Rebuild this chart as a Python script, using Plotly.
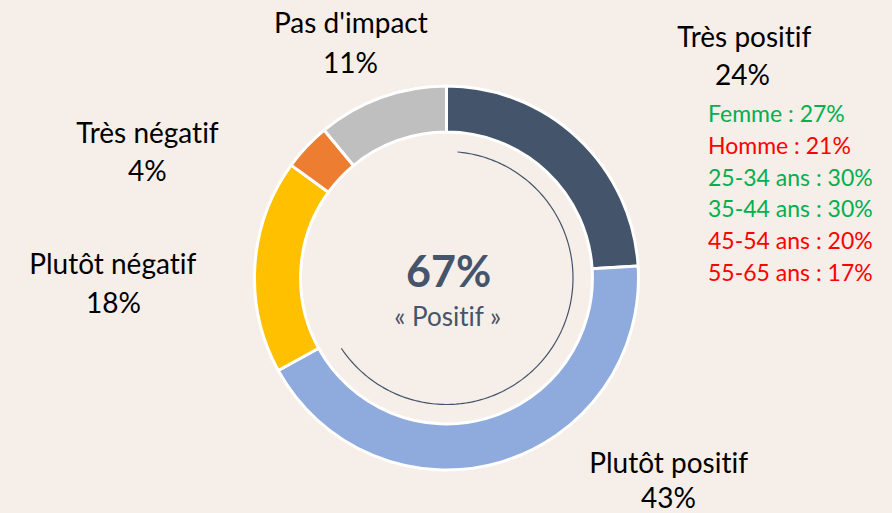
import plotly.graph_objects as go

# ---- data ----
categories = ["Très positif", "Plutôt positif", "Plutôt négatif", "Très négatif", "Pas d'impact"]
values = [24, 43, 18, 4, 11]
colors = ["#44546A", "#8FAADC", "#FFC000", "#ED7D31", "#BFBFBF"]
positive_share = 67
positive_label = "« Positif »"
detail_labels = ["Femme : 27%", "Homme : 21%", "25-34 ans : 30%", "35-44 ans : 30%",
                 "45-54 ans : 20%", "55-65 ans : 17%"]
detail_colors = ["#00B050", "#FF0000", "#00B050", "#00B050", "#FF0000", "#FF0000"]

W, H = 892, 513
BG = "#F6EEE8"
FONT = "Lato"

cx, cy, R = 446.5, 278, 192
dom_x = [(cx - R) / W, (cx + R) / W]
dom_y = [(H - cy - R) / H, (H - cy + R) / H]

fig = go.Figure()
fig.add_trace(go.Pie(
    labels=categories, values=values, sort=False, direction="clockwise", rotation=0,
    hole=0.76, marker=dict(colors=colors, line=dict(color="white", width=3)),
    textinfo="none", hoverinfo="label+percent", showlegend=False,
    domain=dict(x=dom_x, y=dom_y),
))

# inner thin arc showing positive share
n = 200
a0 = 5
a1 = positive_share * 3.6 - 5
thetas = [a0 + (a1 - a0) * i / (n - 1) for i in range(n)]
fig.add_trace(go.Scatterpolar(
    r=[126.5 / R] * n, theta=thetas, mode="lines",
    line=dict(color="#44546A", width=1.2), hoverinfo="skip", showlegend=False,
))
fig.update_layout(
    polar=dict(
        domain=dict(x=dom_x, y=dom_y),
        bgcolor="rgba(0,0,0,0)",
        radialaxis=dict(visible=False, range=[0, 1]),
        angularaxis=dict(visible=False, rotation=90, direction="clockwise"),
    )
)

def px(x, y):
    return x / W, 1 - y / H

annotations = []
def ann(text, x, y, size, color="black", bold=False, xanchor="center"):
    ax, ay = px(x, y)
    t = f"<b>{text}</b>" if bold else text
    annotations.append(dict(text=t, x=ax, y=ay, xref="paper", yref="paper",
                            xanchor=xanchor, yanchor="middle", showarrow=False,
                            font=dict(family=FONT, size=size, color=color)))

# center
ann(f"{positive_share}%", cx + 2, 270, 43, "#44546A", bold=True)
ann(positive_label, cx + 1, 316, 26, "#44546A")

# slice labels (name, pct) with positions
label_pos = {
    "Très positif": ((744, 36), (742, 74)),
    "Plutôt positif": ((668, 462), (668, 497)),
    "Plutôt négatif": ((113, 263), (113, 302)),
    "Très négatif": ((147, 132), (147, 170)),
    "Pas d'impact": ((351, 22), (350, 62)),
}
for cat, v in zip(categories, values):
    (lx, ly), (vx, vy) = label_pos[cat]
    ann(cat, lx, ly, 28)
    ann(f"{v}%", vx, vy, 28)

# details
for i, (t, c) in enumerate(zip(detail_labels, detail_colors)):
    ann(t, 706, 113 + i * 31.8, 23, c, xanchor="left")

fig.update_layout(
    width=W, height=H, margin=dict(l=0, r=0, t=0, b=0),
    paper_bgcolor=BG, plot_bgcolor=BG, annotations=annotations,
)
fig.write_html(
    "out.html",
    config={"displayModeBar": False},
    post_script=(
        f"document.body.style.margin='0';document.body.style.background='{BG}';"
        "document.body.style.overflow='hidden';"
        "var s=document.createElement('style');"
        "s.textContent='text{font-variant-ligatures:none;font-feature-settings:\"liga\" 0;}';"
        "document.head.appendChild(s);"
    ),
)
